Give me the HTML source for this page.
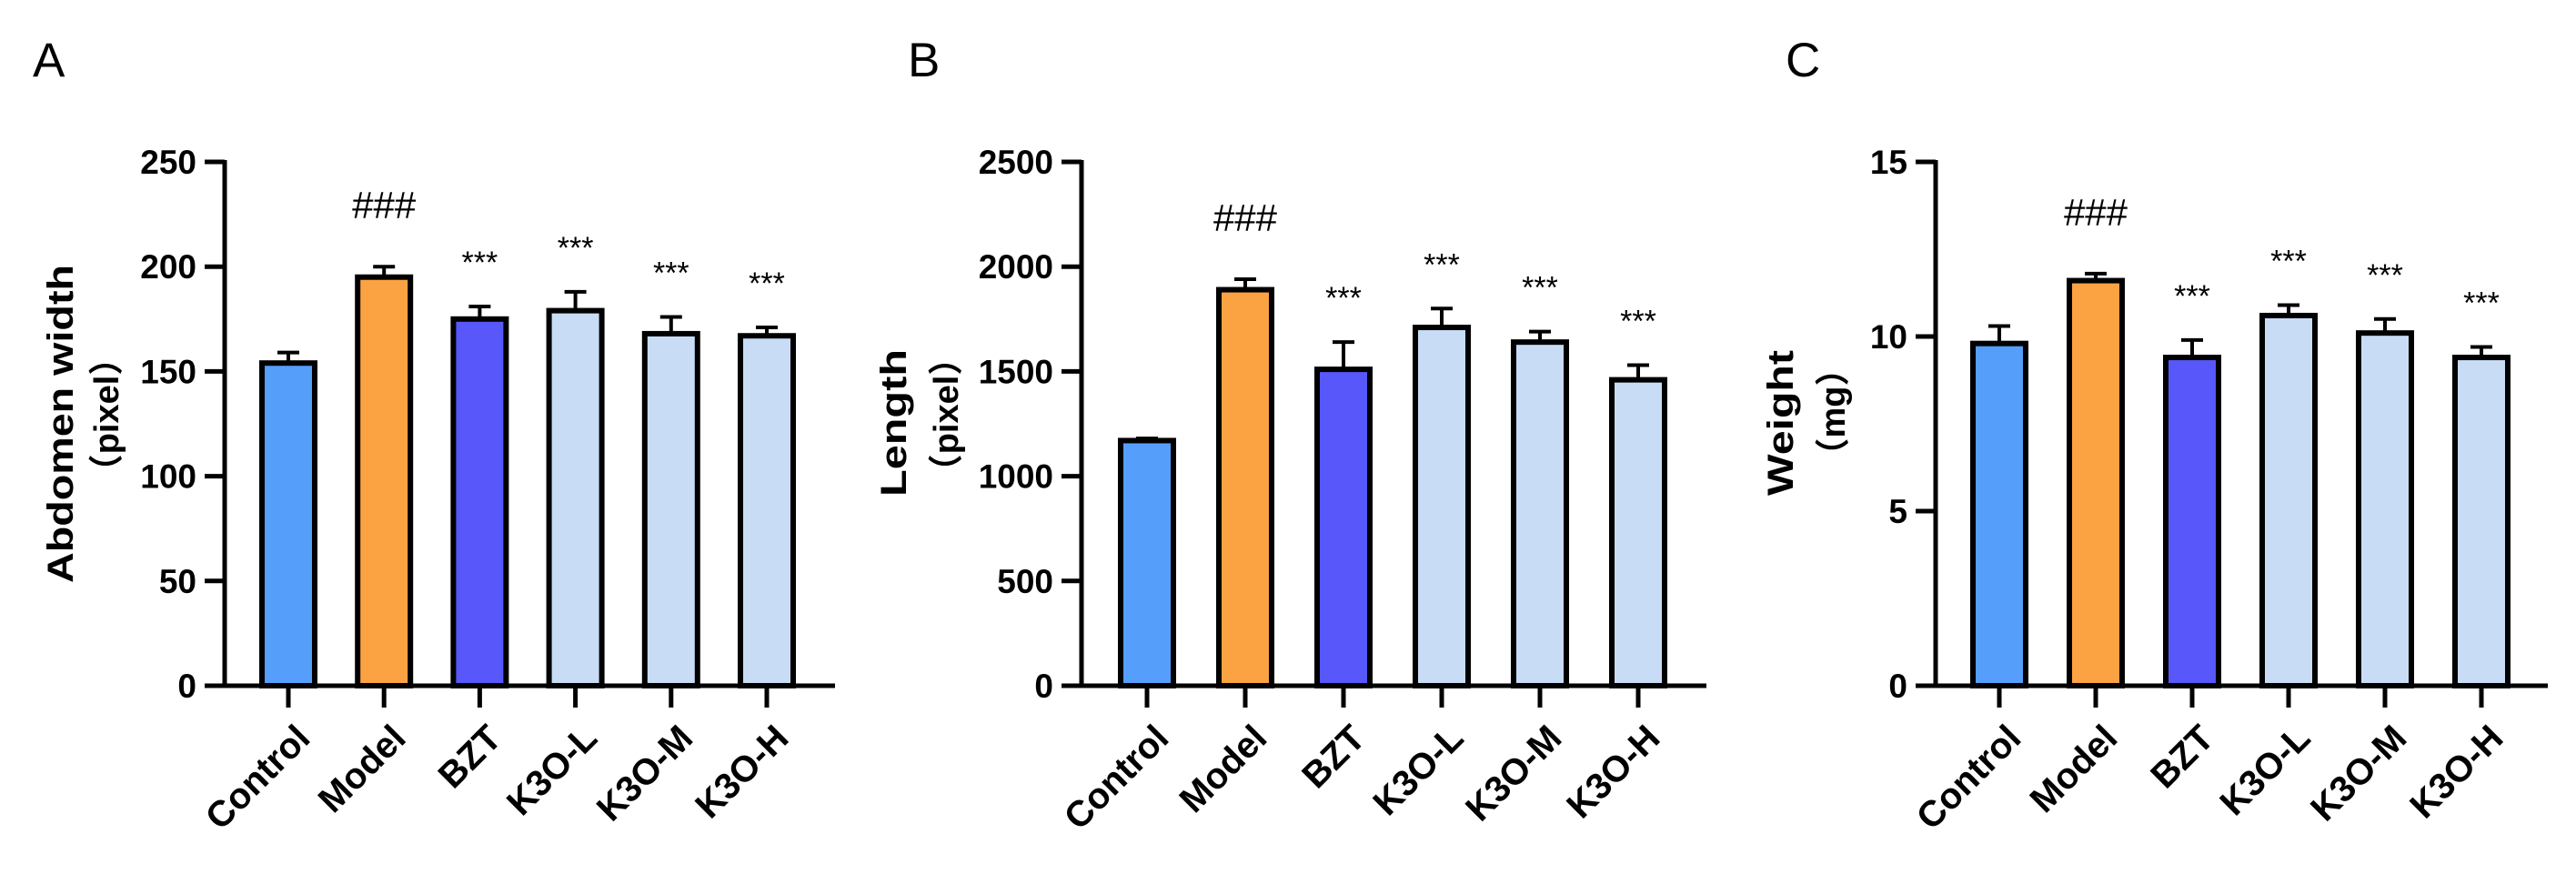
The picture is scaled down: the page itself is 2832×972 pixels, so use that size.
<!DOCTYPE html>
<html><head><meta charset="utf-8">
<style>
html,body{margin:0;padding:0;background:#fff;}
svg{display:block;}
text{font-family:"Liberation Sans","Noto Sans CJK SC",sans-serif;}
</style></head>
<body>
<svg id="chart" width="2832" height="972" viewBox="0 0 2832 972" xmlns="http://www.w3.org/2000/svg"></svg>
<script>
const categories = ["Control","Model","BZT","K3O-L","K3O-M","K3O-H"];
const colors = ["#559efa","#fba342","#5757fa","#c8dcf6","#c8dcf6","#c8dcf6"];
const valuesA = [154,195,175,179,168,167];
const errA = [159,200,181,188,176,171];
const valuesB = [1170,1890,1510,1710,1640,1460];
const errB = [1180,1940,1640,1800,1690,1530];
const valuesC = [9.8,11.6,9.4,10.6,10.1,9.4];
const errC = [10.3,11.8,9.9,10.9,10.5,9.7];
const ticksA = [0,50,100,150,200,250];
const ticksB = [0,500,1000,1500,2000,2500];
const ticksC = [0,5,10,15];
const sigA = ["","###","***","***","***","***"];
const sigB = ["","###","***","***","***","***"];
const sigC = ["","###","***","***","***","***"];
const NS="http://www.w3.org/2000/svg";
const svg=document.getElementById('chart');
function mk(tag,attrs,parent){const e=document.createElementNS(NS,tag);for(const k in attrs)e.setAttribute(k,attrs[k]);(parent||svg).appendChild(e);return e;}
function panel(cfg){
  const g=mk('g',{});
  
  
  const y0=754,y1=178,max=cfg.ticks[cfg.ticks.length-1];
  const ys=v=>y0-(v/max)*(y0-y1);
  const xs=i=>cfg.c0+i*cfg.step;
  const L=mk('text',{x:cfg.lx,y:84,'font-size':53},g);L.textContent=cfg.letter;
  
  
  cfg.ticks.forEach(t=>{
    const tl=mk('line',{x1:cfg.ax-22,x2:cfg.ax,y1:ys(t),y2:ys(t),stroke:'#000','stroke-width':5},g);
    
    
    const tx=mk('text',{x:cfg.ax-31,y:ys(t)+13,'font-size':37,'font-weight':'bold','text-anchor':'end'},g);
    tx.textContent=t;
    
    
  });
  const ya=mk('line',{x1:cfg.ax,x2:cfg.ax,y1:y1-2,y2:y0+2.5,stroke:'#000','stroke-width':5},g);
  
  
  const xa=mk('line',{x1:cfg.ax-2.5,x2:cfg.xend,y1:y0,y2:y0,stroke:'#000','stroke-width':5},g);
  
  
  categories.forEach((c,i)=>{
    const x=xs(i),v=cfg.vals[i],e=cfg.err[i];
    const el=mk('line',{x1:x,x2:x,y1:ys(v),y2:ys(e),stroke:'#000','stroke-width':4},g);
    
    
    const cp=mk('line',{x1:x-12,x2:x+12,y1:ys(e),y2:ys(e),stroke:'#000','stroke-width':4},g);
    
    
    const w=58;
    const r=mk('rect',{x:x-w/2,y:ys(v),width:w,height:y0-ys(v),fill:colors[i],stroke:'#000','stroke-width':6},g);
    
    
    const xt=mk('line',{x1:x,x2:x,y1:y0,y2:y0+24,stroke:'#000','stroke-width':5},g);
    
    
    const ax=x+26,ay=y0+60;
    const lb=mk('text',{x:ax,y:ay,'font-size':40,'font-weight':'bold','text-anchor':'end',transform:`rotate(-45 ${ax} ${ay})`},g);
    lb.textContent=c;
    
    
    if(cfg.sig[i]){
      const isHash=cfg.sig[i]==='###';
      const s=mk('text',{x:x,y:ys(e)-(isHash?53:37),'font-size':isHash?42:34,'text-anchor':'middle'},g);
      s.textContent=cfg.sig[i];
      
      
    }
  });
  const t1=mk('text',{x:0,y:0,'font-size':40,'font-weight':'bold','text-anchor':'middle',textLength:cfg.t1len,lengthAdjust:'spacingAndGlyphs',transform:`translate(${cfg.t1x} ${cfg.t1y}) rotate(-90)`},g);
  t1.textContent=cfg.title;
  
  
  const t2=mk('text',{x:0,y:0,'font-size':38,'font-weight':'bold','text-anchor':'middle',transform:`translate(${cfg.t2x} ${cfg.t2y}) rotate(-90)`},g);
  t2.textContent=cfg.unit;
  
  
}
panel({letter:'A',lx:36,ax:247,xend:918,c0:317,step:105.2,vals:valuesA,err:errA,ticks:ticksA,sig:sigA,title:'Abdomen width',t1len:350,unit:'（pixel）',t1x:80,t1y:466,t2x:130,t2y:456});
panel({letter:'B',lx:998,ax:1189,xend:1876,c0:1261,step:108,vals:valuesB,err:errB,ticks:ticksB,sig:sigB,title:'Length',t1len:162,unit:'（pixel）',t1x:996,t1y:465,t2x:1053,t2y:456});
panel({letter:'C',lx:1963,ax:2128,xend:2801,c0:2198,step:106,vals:valuesC,err:errC,ticks:ticksC,sig:sigC,title:'Weight',t1len:160,unit:'（mg）',t1x:1971,t1y:465,t2x:2028,t2y:453});
</script>
</body></html>
